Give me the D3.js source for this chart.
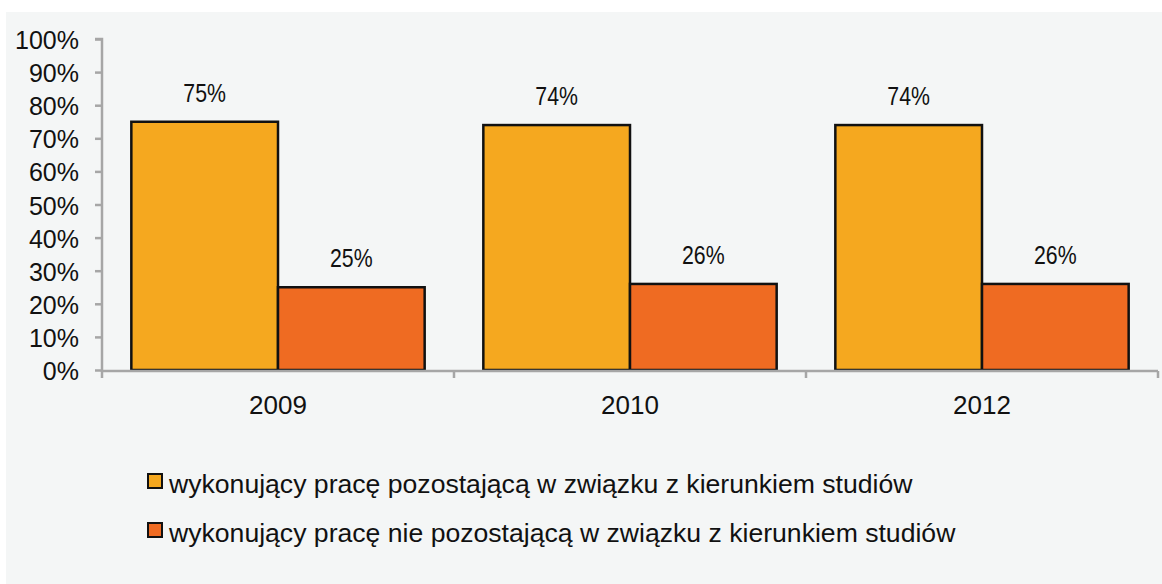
<!DOCTYPE html>
<html>
<head>
<meta charset="utf-8">
<script src="https://cdn.jsdelivr.net/npm/d3@7"></script>
<style>
  body { margin: 0; background: #ffffff; }
  svg { display: block; font-family: "Liberation Sans", Arial, sans-serif; }
</style>
</head>
<body>
<svg id="chart" width="1162" height="584"></svg>
<script>
// data
const years = ['2009', '2010', '2012'];
const series = [
  'wykonujący pracę pozostającą w związku z kierunkiem studiów',
  'wykonujący pracę nie pozostającą w związku z kierunkiem studiów'
];
const related = [75, 74, 74];
const unrelated = [25, 26, 26];
const yTicks = [0, 10, 20, 30, 40, 50, 60, 70, 80, 90, 100];

const colors = ['#f5a81f', '#ef6b22'];
const axisGray = '#a6a6a6';

const svg = d3.select('#chart');

// panel background
svg.append('rect')
  .attr('x', 6).attr('y', 12)
  .attr('width', 1156).attr('height', 572)
  .attr('fill', '#f4f6f6');

const y = d3.scaleLinear().domain([0, 100]).range([370, 39]);
const x0 = d3.scaleBand().domain(years).range([102, 1158]);
const x1 = d3.scaleBand().domain([0, 1]).range([0, x0.bandwidth()]).paddingOuter(0.2);

const rows = years.map((yr, i) => ({ year: yr, values: [related[i], unrelated[i]] }));

// y axis
const yAxis = svg.append('g')
  .attr('transform', 'translate(102,0)')
  .call(d3.axisLeft(y).tickValues(yTicks).tickSize(7).tickPadding(16).tickFormat(d => d + '%'));
yAxis.select('.domain').attr('stroke', axisGray).attr('stroke-width', 2.5)
  .attr('d', `M-7,${y(100)}H0V372`);
yAxis.selectAll('.tick line').attr('stroke', axisGray).attr('stroke-width', 2.5);
yAxis.selectAll('.tick text')
  .attr('fill', '#111')
  .attr('font-size', 25)
  .attr('font-family', '"Liberation Sans", Arial, sans-serif')
  .attr('dy', '0.38em');

// bars
const groups = svg.append('g').selectAll('g')
  .data(rows)
  .join('g')
  .attr('transform', d => `translate(${x0(d.year)},0)`);

groups.selectAll('rect')
  .data(d => d.values.map((v, k) => ({ k, v })))
  .join('rect')
  .attr('x', d => x1(d.k))
  .attr('y', d => y(d.v))
  .attr('width', x1.bandwidth())
  .attr('height', d => y(0) - y(d.v))
  .attr('fill', d => colors[d.k])
  .attr('stroke', '#111')
  .attr('stroke-width', 2.5);

// value labels are set in a condensed face in the original
groups.selectAll('text.val')
  .data(d => d.values.map((v, k) => ({ k, v })))
  .join('text')
  .attr('class', 'val')
  .attr('transform', d => `translate(${x1(d.k) + x1.bandwidth() / 2},${y(d.v) - 20}) scale(0.82,1)`)
  .attr('text-anchor', 'middle')
  .attr('font-size', 26)
  .attr('fill', '#111')
  .text(d => d.v + '%');

// x axis
const xAxis = svg.append('g')
  .attr('transform', 'translate(0,371)')
  .call(d3.axisBottom(x0).tickSize(0).tickPadding(0));
xAxis.select('.domain').remove();
xAxis.append('path')
  .attr('d', 'M101,0H1158')
  .attr('stroke', axisGray).attr('stroke-width', 2.5);
xAxis.selectAll('.sep')
  .data([102].concat(years.map(d => x0(d) + x0.bandwidth())))
  .join('line')
  .attr('class', 'sep')
  .attr('x1', d => d).attr('x2', d => d)
  .attr('y1', 0).attr('y2', 7)
  .attr('stroke', axisGray).attr('stroke-width', 2.5);
xAxis.selectAll('.tick text')
  .attr('y', 43)
  .attr('dy', 0)
  .attr('font-size', 26)
  .attr('font-family', '"Liberation Sans", Arial, sans-serif')
  .attr('fill', '#111');

// legend
const legend = svg.append('g').selectAll('g')
  .data(series)
  .join('g')
  .attr('transform', (d, i) => `translate(148,${474 + i * 49})`);
legend.append('rect')
  .attr('width', 14).attr('height', 14)
  .attr('fill', (d, i) => colors[i])
  .attr('stroke', '#111').attr('stroke-width', 2);
legend.append('text')
  .attr('x', 21).attr('y', 19)
  .attr('font-size', 26.6)
  .attr('fill', '#111')
  .text(d => d);
</script>
</body>
</html>
